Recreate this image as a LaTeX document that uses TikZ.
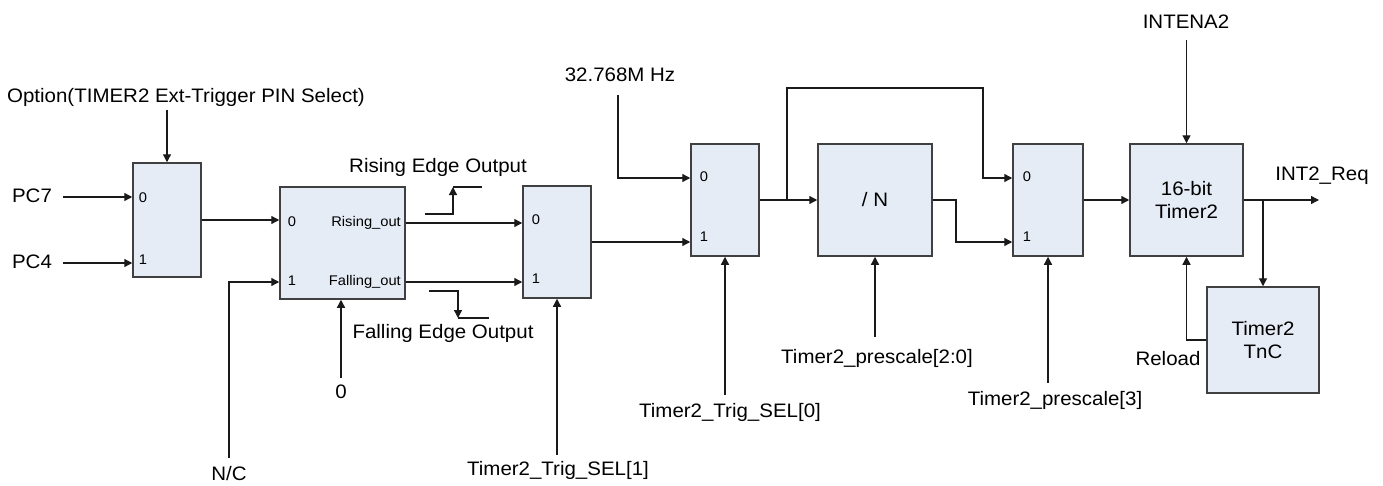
\documentclass[tikz,border=0pt]{standalone}
\usepackage{fontspec}
\setmainfont{Liberation Sans}[FakeStretch=1.05]
\usetikzlibrary{arrows.meta}
\definecolor{boxfill}{HTML}{E5ECF6}
\definecolor{boxline}{HTML}{404040}
\definecolor{wirec}{HTML}{1A1A1A}
\begin{document}
\begin{tikzpicture}[x=1pt,y=-1pt,
  font=\fontsize{19.5}{23}\selectfont,
  blk/.style={draw=boxline,fill=boxfill,line width=1.5pt,inner sep=0pt},
  lbl/.style={inner sep=0pt,text height=14pt,text depth=4pt},
  port/.style={font=\fontsize{14}{16}\selectfont,inner sep=0pt,text height=10pt,text depth=3pt},
  w/.style={draw=wirec,line width=1.3pt},
  arr/.style={-{Triangle[length=8pt,width=8pt]}}]
\useasboundingbox (0,0) rectangle (1383,485);

% blocks
\node[blk,minimum width=68pt,minimum height=114pt] (mux1) at (167,220) {};
\node[blk,minimum width=125pt,minimum height=112pt] (edge) at (342.5,243) {};
\node[blk,minimum width=68pt,minimum height=112pt] (mux3) at (557,242) {};
\node[blk,minimum width=68pt,minimum height=112pt] (mux4) at (725,200) {};
\node[blk,minimum width=114pt,minimum height=112pt] (divn) at (875,200) {/ N};
\node[blk,minimum width=70pt,minimum height=112pt] (mux5) at (1048,200) {};
\node[blk,minimum width=113pt,minimum height=112pt,align=center] (timer) at (1186.5,200) {16-bit\\Timer2};
\node[blk,minimum width=112pt,minimum height=106pt,align=center] (tnc) at (1263,340) {Timer2\\TnC};

% port labels
\node[port] (m1a) at (143,199) {0};
\node[port] (m1b) at (143,261) {1};
\node[port] (e0) at (292,223) {0};
\node[port] (e1) at (292,282) {1};
\node[port,anchor=east] (rout) at (401,223) {Rising\_out};
\node[port,anchor=east] (fout) at (401,282) {Falling\_out};
\node[port] (m3a) at (536,221) {0};
\node[port] (m3b) at (536,280) {1};
\node[port] (m4a) at (704,178) {0};
\node[port] (m4b) at (704,238) {1};
\node[port] (m5a) at (1027,178) {0};
\node[port] (m5b) at (1027,238) {1};

% text labels
\node[lbl] (opt) at (186,97) {Option(TIMER2 Ext-Trigger PIN Select)};
\node[lbl] (pc7) at (32,197) {PC7};
\node[lbl] (pc4) at (32,263) {PC4};
\node[lbl] (rise) at (438,167) {Rising Edge Output};
\node[lbl] (fall) at (443,333) {Falling Edge Output};
\node[lbl] (nc) at (229,475) {N/C};
\node[lbl] (zero) at (341,393) {0};
\node[lbl] (ts1) at (558,470) {Timer2\_Trig\_SEL[1]};
\node[lbl] (clk) at (620,76) {32.768M Hz};
\node[lbl] (ts0) at (730,412) {Timer2\_Trig\_SEL[0]};
\node[lbl] (ps20) at (877,358) {Timer2\_prescale[2:0]};
\node[lbl] (ps3) at (1055,400) {Timer2\_prescale[3]};
\node[lbl] (intena) at (1186,23) {INTENA2};
\node[lbl] (intreq) at (1322,175) {INT2\_Req};
\node[lbl] (reload) at (1168,360) {Reload};

% helper coordinates
\coordinate (j1) at (787,200);
\coordinate (loop) at (983,88);
\coordinate (k2) at (956,242);
\coordinate (intout) at (1319,200);

% connectors
\draw[w,arr] ([yshift=-4pt]opt.south -| mux1.north) -- (mux1.north);
\draw[w,arr] ([xshift=11pt]pc7.east) -- (mux1.west |- pc7.east);
\draw[w,arr] ([xshift=11pt]pc4.east) -- (mux1.west |- pc4.east);
\draw[w,arr] (mux1.east) -- (edge.west |- mux1.east);
\draw[w,arr] ([yshift=8pt]nc.north) |- (edge.west |- fout);
\draw[w,arr] ([yshift=6pt]zero.north) -- (zero.north |- edge.south);
\draw[w,arr] (edge.east |- rout) -- (mux3.west |- rout);
\draw[w,arr] (edge.east |- fout) -- (mux3.west |- fout);
\draw[w,arr] ([yshift=6pt]ts1.north -| mux3.south) -- (mux3.south);
\draw[w,arr] (mux3.east) -- (mux4.west |- mux3.east);
\draw[w,arr] ([xshift=-2pt,yshift=-10pt]clk.south) |- (mux4.west |- m4a);
\draw[w,arr] ([yshift=8pt]ts0.north -| mux4.south) -- (mux4.south);
\draw[w,arr] (mux4.east) -- (divn.west);
\draw[w,arr] (j1) |- (loop) |- (mux5.west |- m5a);
\draw[w,arr] (divn.east) -| (k2) -- (mux5.west |- k2);
\draw[w,arr] ([yshift=12pt]ps20.north -| divn.south) -- (divn.south);
\draw[w,arr] ([yshift=8pt]ps3.north -| mux5.south) -- (mux5.south);
\draw[w,arr] (mux5.east) -- (timer.west);
\draw[w,arr] ([yshift=-8pt]intena.south -| timer.north) -- (timer.north);
\draw[w,arr] (timer.east) -- (intout);
\draw[w,arr] (tnc.north |- timer.east) -- (tnc.north);
\draw[w,arr] (tnc.west) -| (timer.south);

% edge glyphs
\draw[w,arr] (425,214) -| (453,187);
\draw[w] (453,187) -- (482,187);
\draw[w,arr] (429,291) -| (458,318);
\draw[w] (458,318) -- (489,318);
\end{tikzpicture}
\end{document}
